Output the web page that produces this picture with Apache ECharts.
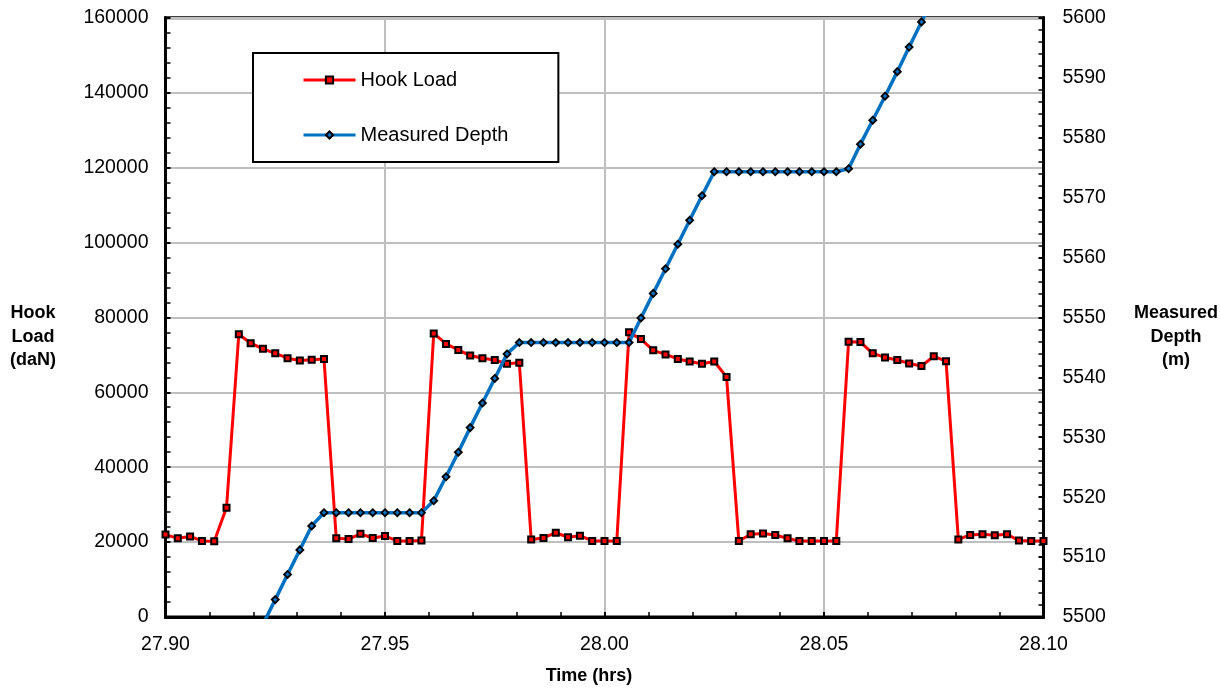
<!DOCTYPE html>
<html>
<head>
<meta charset="utf-8">
<title>Hook Load / Measured Depth</title>
<script src="https://cdn.jsdelivr.net/npm/echarts@6/dist/echarts.min.js"></script>
<style>
  html, body { margin: 0; padding: 0; background: #fff; }
  #chart { width: 1220px; height: 690px; }
</style>
</head>
<body>
<div id="chart"></div>
<script>
// time stamps, hrs (10 s sampling)
const timeHrs = [
  27.9000, 27.9028, 27.9056, 27.9083, 27.9111, 27.9139, 27.9167, 27.9194, 27.9222, 27.9250,
  27.9278, 27.9306, 27.9333, 27.9361, 27.9389, 27.9417, 27.9444, 27.9472, 27.9500, 27.9528,
  27.9556, 27.9583, 27.9611, 27.9639, 27.9667, 27.9694, 27.9722, 27.9750, 27.9778, 27.9806,
  27.9833, 27.9861, 27.9889, 27.9917, 27.9944, 27.9972, 28.0000, 28.0028, 28.0056, 28.0083,
  28.0111, 28.0139, 28.0167, 28.0194, 28.0222, 28.0250, 28.0278, 28.0306, 28.0333, 28.0361,
  28.0389, 28.0417, 28.0444, 28.0472, 28.0500, 28.0528, 28.0556, 28.0583, 28.0611, 28.0639,
  28.0667, 28.0694, 28.0722, 28.0750, 28.0778, 28.0806, 28.0833, 28.0861, 28.0889, 28.0917,
  28.0944, 28.0972, 28.1000
];

// hook load, daN
const hookLoad = [
  22000, 21000, 21500, 20300, 20200, 29200, 75500, 73100, 71600, 70400,
  69100, 68500, 68700, 68900, 21000, 20800, 22200, 21100, 21600, 20300,
  20300, 20400, 75700, 72900, 71300, 69800, 69100, 68600, 67600, 67900,
  20700, 21100, 22500, 21300, 21700, 20300, 20300, 20300, 76000, 74200,
  71200, 70100, 68900, 68200, 67600, 68200, 64100, 20300, 22100, 22300,
  21900, 21000, 20300, 20300, 20300, 20300, 73500, 73400, 70400, 69300,
  68600, 67700, 67000, 69600, 68300, 20700, 21900, 22100, 21800, 22100,
  20400, 20300, 20300
];

// measured depth, m (outside the plotted range -> null)
const measuredDepth = [
  null, null, null, null, null, null, null, null, 5498.8, 5502.9,
  5507.1, 5511.2, 5515.2, 5517.4, 5517.4, 5517.4, 5517.4, 5517.4, 5517.4, 5517.4,
  5517.4, 5517.4, 5519.4, 5523.4, 5527.5, 5531.6, 5535.7, 5539.8, 5543.9, 5545.8,
  5545.8, 5545.8, 5545.8, 5545.8, 5545.8, 5545.8, 5545.8, 5545.8, 5545.8, 5549.9,
  5554.0, 5558.1, 5562.2, 5566.2, 5570.3, 5574.3, 5574.3, 5574.3, 5574.3, 5574.3,
  5574.3, 5574.3, 5574.3, 5574.3, 5574.3, 5574.3, 5574.8, 5578.9, 5582.9, 5586.9,
  5591.0, 5595.1, 5599.3, 5603.4, null, null, null, null, null, null,
  null, null, null
];

const fontFam = 'Arial, "Liberation Sans", sans-serif';

const chart = echarts.init(document.getElementById('chart'));

const hookData = timeHrs.map((t, i) => [t, hookLoad[i]]);
const depthData = timeHrs.map((t, i) => [t, measuredDepth[i]]);

const tickStyle = { inside: true, length: 5, lineStyle: { color: '#000', width: 2 } };
const minorStyle = { show: true, splitNumber: 5, length: 5, lineStyle: { color: '#000', width: 1.5 } };
const labelFont = { fontFamily: fontFam, fontSize: 19.5, color: '#000' };
const titleFont = 'bold 18px ' + fontFam;

const option = {
  animation: false,
  backgroundColor: '#fff',
  textStyle: { fontFamily: fontFam },
  grid: {
    left: 165.5,
    right: 176.5,
    top: 17.7,
    bottom: 69.7,
    show: true,
    borderColor: '#000',
    borderWidth: 3,
    backgroundColor: 'transparent',
  },
  legend: {
    orient: 'vertical',
    left: 253,
    top: 53,
    padding: [17, 50, 17, 49],
    itemGap: 35,
    itemWidth: 52,
    itemHeight: 9,
    selectedMode: false,
    backgroundColor: '#fff',
    borderColor: '#000',
    borderWidth: 2,
    borderRadius: 0,
    lineStyle: { width: 3 },
    textStyle: { fontFamily: fontFam, fontSize: 20, color: '#000', lineHeight: 20 },
    data: ['Hook Load', 'Measured Depth'],
  },
  // y axis titles, stacked horizontally beside each axis
  graphic: [
    {
      type: 'text',
      x: 33,
      y: 337,
      style: {
        text: 'Hook\nLoad\n(daN)',
        font: titleFont,
        fill: '#000',
        align: 'center',
        verticalAlign: 'middle',
        lineHeight: 23.5,
      },
    },
    {
      type: 'text',
      x: 1176,
      y: 337,
      style: {
        text: 'Measured\nDepth\n(m)',
        font: titleFont,
        fill: '#000',
        align: 'center',
        verticalAlign: 'middle',
        lineHeight: 23.5,
      },
    },
  ],
  xAxis: {
    type: 'value',
    min: 27.9,
    max: 28.1,
    interval: 0.05,
    name: 'Time (hrs)',
    nameLocation: 'middle',
    nameGap: 59,
    nameTextStyle: {
      fontFamily: fontFam,
      fontWeight: 'bold',
      fontSize: 18,
      color: '#000',
      align: 'center',
      verticalAlign: 'middle',
      padding: [0, 31, 0, 0],
    },
    axisLine: { show: true, onZero: false, lineStyle: { color: '#000', width: 3 } },
    axisTick: tickStyle,
    minorTick: minorStyle,
    axisLabel: Object.assign({}, labelFont, {
      margin: 18,
      formatter: (v) => v.toFixed(2),
    }),
    splitLine: { show: true, lineStyle: { color: '#BFBFBF', width: 2 } },
  },
  yAxis: [
    {
      type: 'value',
      position: 'left',
      min: 0,
      max: 160000,
      interval: 20000,
      axisLine: { show: true, lineStyle: { color: '#000', width: 3 } },
      axisTick: tickStyle,
      minorTick: minorStyle,
      axisLabel: Object.assign({}, labelFont, {
        margin: 17,
        formatter: (v) => String(v),
      }),
      splitLine: { show: true, lineStyle: { color: '#BFBFBF', width: 2 } },
    },
    {
      type: 'value',
      position: 'right',
      min: 5500,
      max: 5600,
      interval: 10,
      axisLine: { show: true, lineStyle: { color: '#000', width: 3 } },
      axisTick: tickStyle,
      minorTick: minorStyle,
      axisLabel: Object.assign({}, labelFont, {
        margin: 19,
        formatter: (v) => String(v),
      }),
      splitLine: { show: false },
    },
  ],
  series: [
    {
      name: 'Hook Load',
      type: 'line',
      yAxisIndex: 0,
      data: hookData,
      symbol: 'rect',
      symbolSize: 6,
      lineStyle: { color: '#FF0000', width: 3 },
      itemStyle: { color: '#FF0000', borderColor: '#000', borderWidth: 2 },
      z: 2,
    },
    {
      name: 'Measured Depth',
      type: 'line',
      yAxisIndex: 1,
      data: depthData,
      symbol: 'diamond',
      symbolSize: 7,
      connectNulls: false,
      lineStyle: { color: '#0070C0', width: 3.5 },
      itemStyle: { color: '#0070C0', borderColor: '#000', borderWidth: 1.8 },
      z: 3,
    },
  ],
};

chart.setOption(option);
</script>
</body>
</html>
